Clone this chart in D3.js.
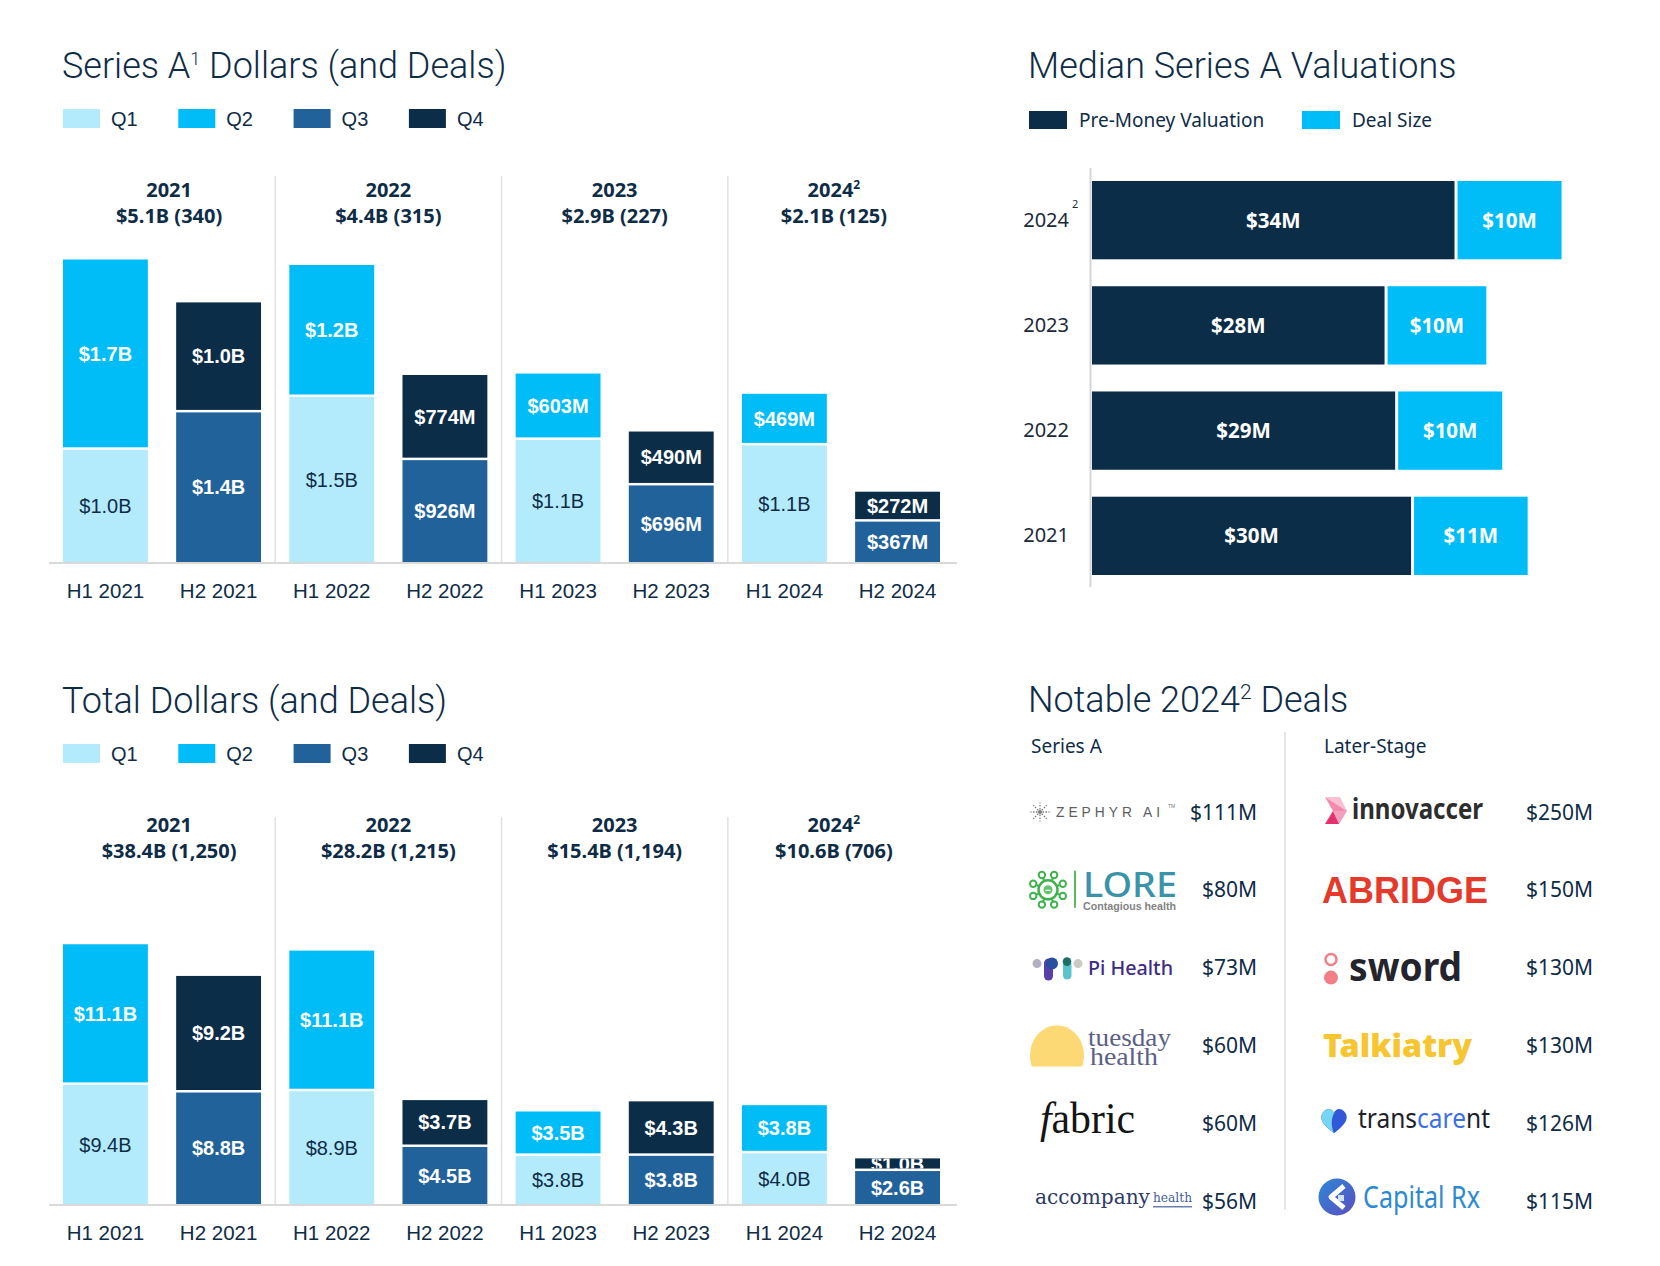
<!DOCTYPE html>
<html>
<head>
<meta charset="utf-8">
<script src="https://cdn.jsdelivr.net/npm/d3@7"></script>
<style>
  body { margin: 0; background: #fff; }
  svg text { font-family: "Liberation Sans", Arial, sans-serif; }
</style>
</head>
<body>
<div id="chart"></div>
<script>
// ---------- data ----------
const halves = ["H1 2021", "H2 2021", "H1 2022", "H2 2022", "H1 2023", "H2 2023", "H1 2024", "H2 2024"];
const quarters = ["Q1", "Q2", "Q3", "Q4"];
const years = ["2021", "2022", "2023", "2024"];
const yearNotes = ["", "", "", "2"];

// Series A dollars, $B, per half-year split by quarter
const seriesAQ1 = [1.02, 0, 1.50, 0, 1.11, 0, 1.06, 0];
const seriesAQ2 = [1.73, 0, 1.20, 0, 0.603, 0, 0.469, 0];
const seriesAQ3 = [0, 1.36, 0, 0.926, 0, 0.696, 0, 0.367];
const seriesAQ4 = [0, 1.00, 0, 0.774, 0, 0.490, 0, 0.272];
const seriesAYearDollars = [5.1, 4.4, 2.9, 2.1];
const seriesAYearDeals = [340, 315, 227, 125];

// total dollars, $B
const totalQ1 = [9.4, 0, 8.9, 0, 3.8, 0, 4.0, 0];
const totalQ2 = [11.1, 0, 11.1, 0, 3.5, 0, 3.8, 0];
const totalQ3 = [0, 8.8, 0, 4.5, 0, 3.8, 0, 2.6];
const totalQ4 = [0, 9.2, 0, 3.7, 0, 4.3, 0, 1.0];
const totalYearDollars = [38.4, 28.2, 15.4, 10.6];
const totalYearDeals = [1250, 1215, 1194, 706];

// median series A valuations, $M
const valuationYears = ["2024", "2023", "2022", "2021"];
const preMoney = [34.2, 27.6, 28.6, 30.1];
const dealSize = [10.1, 9.6, 10.1, 11.0];

// notable 2024 deals, $M
const seriesADeals = ["Zephyr AI", "Lore Health", "Pi Health", "Tuesday Health", "Fabric", "Accompany Health"];
const seriesAAmounts = [111, 80, 73, 60, 60, 56];
const laterDeals = ["Innovaccer", "Abridge", "Sword Health", "Talkiatry", "Transcarent", "Capital Rx"];
const laterAmounts = [250, 150, 130, 130, 126, 115];

// ---------- styles ----------
const navy = "#0f2c47";
const qColors = ["#b3ebfc", "#00bdf7", "#22629a", "#0c2d48"];
const titleFont = "Roboto, 'Liberation Sans', sans-serif";
const plexLike = "'Noto Sans', 'Open Sans', sans-serif";

const svg = d3.select("#chart").append("svg")
    .attr("width", 1660)
    .attr("height", 1266);

function title(x, y, parts) {
    const t = svg.append("text")
        .attr("x", x).attr("y", y)
        .style("font-family", titleFont)
        .attr("font-weight", 300)
        .attr("font-size", 36)
        .attr("fill", navy);
    parts.forEach(p => {
        if (p.sup) {
            t.append("tspan").attr("dy", -13).attr("font-size", p.size || 18).text(p.t);
        } else {
            t.append("tspan").attr("dy", p.back ? 13 : 0).text(p.t);
        }
    });
}

function fmtBar(v) {
    return v < 1 ? "$" + Math.round(v * 1000) + "M" : "$" + v.toFixed(1) + "B";
}

// ---------- stacked half-year chart ----------
let clipId = 0;
function drawStack(cfg) {
    const top = cfg.top, base = cfg.base;
    title(62, 78 + top, cfg.title);

    // legend
    const leg = svg.append("g");
    quarters.forEach((q, i) => {
        const lx = 63 + i * 115.3;
        leg.append("rect").attr("x", lx).attr("y", 109 + top)
            .attr("width", 37).attr("height", 19).attr("fill", qColors[i]);
        leg.append("text").attr("x", lx + 48).attr("y", 118.5 + top).attr("dy", "0.36em")
            .attr("font-size", 20).attr("fill", navy).text(q);
    });

    const rows = halves.map((h, i) => {
        const r = {half: h};
        quarters.forEach((q, k) => r[q] = cfg.q[k][i]);
        return r;
    });
    const stacked = d3.stack().keys(quarters)(rows);

    const x = d3.scaleBand().domain(halves).range([63, 940]).paddingInner(0.25);
    const y = d3.scaleLinear().domain([0, 1]).range([base, base - cfg.pxPerB]);
    const bw = x.bandwidth();

    // year separators
    const seps = [];
    for (let k = 1; k < years.length; k++) {
        const sx = (x(halves[2 * k - 1]) + bw + x(halves[2 * k])) / 2;
        seps.push(sx);
        svg.append("line").attr("x1", sx).attr("x2", sx)
            .attr("y1", cfg.sepTop).attr("y2", base)
            .attr("stroke", "#e2e2e2").attr("stroke-width", 1.5);
    }
    const edges = [x(halves[0])].concat(seps, [x(halves[halves.length - 1]) + bw]);

    // year headers
    years.forEach((yr, k) => {
        const cx = (edges[k] + edges[k + 1]) / 2;
        const t = svg.append("text").attr("x", cx).attr("y", 197 + top)
            .attr("text-anchor", "middle").attr("font-weight", 700)
            .attr("font-size", 20).attr("fill", navy)
            .style("font-family", plexLike);
        t.append("tspan").text(yr);
        if (yearNotes[k]) t.append("tspan").attr("dy", -8).attr("font-size", 12).text(yearNotes[k]);
        svg.append("text").attr("x", cx).attr("y", 223 + top)
            .attr("text-anchor", "middle").attr("font-weight", 700)
            .attr("font-size", 20).attr("fill", navy)
            .style("font-family", plexLike)
            .text("$" + cfg.yearDollars[k].toFixed(1) + "B (" + d3.format(",")(cfg.yearDeals[k]) + ")");
    });

    // bars
    const layer = svg.append("g");
    stacked.forEach((s, qi) => {
        s.forEach((d, i) => {
            if (d[1] - d[0] <= 0) return;
            const gap = d[0] > 0 ? 2.5 : 0;
            const rx = x(halves[i]), ry = y(d[1]);
            const rh = y(d[0]) - y(d[1]) - gap;
            layer.append("rect").attr("x", rx).attr("y", ry)
                .attr("width", bw).attr("height", rh).attr("fill", qColors[qi]);
            const id = "seg" + (clipId++);
            svg.append("clipPath").attr("id", id).append("rect")
                .attr("x", rx).attr("y", ry).attr("width", bw).attr("height", rh);
            svg.append("text").attr("clip-path", "url(#" + id + ")")
                .attr("x", rx + bw / 2).attr("y", ry + rh / 2).attr("dy", "0.36em")
                .attr("text-anchor", "middle").attr("font-size", 20)
                .attr("font-weight", qi === 0 ? 400 : 700)
                .attr("fill", qi === 0 ? navy : "#fff")
                .text(fmtBar(d[1] - d[0]));
        });
    });

    // baseline
    svg.append("line").attr("x1", 49).attr("x2", 957).attr("y1", base + 1).attr("y2", base + 1)
        .attr("stroke", "#d9d9d9").attr("stroke-width", 2);

    // category axis
    const ax = svg.append("g").attr("transform", "translate(0," + base + ")")
        .call(d3.axisBottom(x).tickSize(0).tickPadding(21));
    ax.select(".domain").remove();
    ax.selectAll("text").attr("font-size", 20.5).attr("fill", navy)
        .style("font-family", "'Liberation Sans', Arial, sans-serif");
}

drawStack({
    top: 0, base: 562, sepTop: 176, pxPerB: 110,
    title: [{t: "Series A"}, {t: "1", sup: true}, {t: " Dollars (and Deals)", back: true}],
    q: [seriesAQ1, seriesAQ2, seriesAQ3, seriesAQ4],
    yearDollars: seriesAYearDollars, yearDeals: seriesAYearDeals
});
drawStack({
    top: 635, base: 1204, sepTop: 817, pxPerB: 12.67,
    title: [{t: "Total Dollars (and Deals)"}],
    q: [totalQ1, totalQ2, totalQ3, totalQ4],
    yearDollars: totalYearDollars, yearDeals: totalYearDeals
});

// ---------- median valuations ----------
title(1028, 78, [{t: "Median Series A Valuations"}]);
[["Pre-Money Valuation", qColors[3], 1029], ["Deal Size", qColors[1], 1302]].forEach(l => {
    svg.append("rect").attr("x", l[2]).attr("y", 111).attr("width", 38).attr("height", 18).attr("fill", l[1]);
    svg.append("text").attr("x", l[2] + 50).attr("y", 120).attr("dy", "0.36em")
        .attr("font-size", 19).attr("fill", navy).style("font-family", plexLike).text(l[0]);
});

const vy = d3.scaleBand().domain(valuationYears).range([181, 575]).paddingInner(0.256);
const vx = d3.scaleLinear().domain([0, 50]).range([1092, 1622]);
const vh = vy.bandwidth();

valuationYears.forEach((yr, i) => {
    const yy = vy(yr);
    const pmEnd = vx(preMoney[i]);
    const dsEnd = vx(preMoney[i] + dealSize[i]);
    svg.append("rect").attr("x", vx(0)).attr("y", yy)
        .attr("width", pmEnd - vx(0)).attr("height", vh).attr("fill", qColors[3]);
    svg.append("rect").attr("x", pmEnd + 3).attr("y", yy)
        .attr("width", dsEnd - pmEnd - 3).attr("height", vh).attr("fill", qColors[1]);
    svg.append("text").attr("x", (vx(0) + pmEnd) / 2).attr("y", yy + vh / 2).attr("dy", "0.36em")
        .attr("text-anchor", "middle").attr("font-size", 20.5).attr("font-weight", 700)
        .attr("fill", "#fff").style("font-family", plexLike)
        .text("$" + Math.round(preMoney[i]) + "M");
    svg.append("text").attr("x", (pmEnd + 3 + dsEnd) / 2).attr("y", yy + vh / 2).attr("dy", "0.36em")
        .attr("text-anchor", "middle").attr("font-size", 20.5).attr("font-weight", 700)
        .attr("fill", "#fff").style("font-family", plexLike)
        .text("$" + Math.round(dealSize[i]) + "M");
});

svg.append("line").attr("x1", 1090.5).attr("x2", 1090.5).attr("y1", 168).attr("y2", 587)
    .attr("stroke", "#d6d6d6").attr("stroke-width", 2);
const yAx = svg.append("g").attr("transform", "translate(1090,0)")
    .call(d3.axisLeft(vy).tickSize(0).tickPadding(21));
yAx.select(".domain").remove();
yAx.selectAll("text").attr("font-size", 20).attr("fill", "#1b2a3a").style("font-family", plexLike);
svg.append("text").attr("x", 1072).attr("y", vy("2024") + vh / 2 - 12)
    .attr("font-size", 11).attr("fill", "#1b2a3a").style("font-family", plexLike).text("2");

// ---------- notable deals ----------
title(1028, 712, [{t: "Notable 2024"}, {t: "2", sup: true, size: 21}, {t: " Deals", back: true}]);
svg.append("text").attr("x", 1031).attr("y", 753).attr("font-size", 19).attr("fill", navy)
    .style("font-family", plexLike).text("Series A");
svg.append("text").attr("x", 1324).attr("y", 753).attr("font-size", 19).attr("fill", navy)
    .style("font-family", plexLike).text("Later-Stage");
svg.append("line").attr("x1", 1285).attr("x2", 1285).attr("y1", 732).attr("y2", 1210)
    .attr("stroke", "#dedede").attr("stroke-width", 1.5);

const rowY = d3.scalePoint().domain(d3.range(6)).range([812, 1201]);

const defs = svg.append("defs");
const grad = defs.append("linearGradient").attr("id", "capgrad")
    .attr("x1", "0%").attr("y1", "0%").attr("x2", "100%").attr("y2", "100%");
grad.append("stop").attr("offset", "0%").attr("stop-color", "#2f86d6");
grad.append("stop").attr("offset", "100%").attr("stop-color", "#5a4fc0");

function word(g, txt, o) {
    return g.append("text").attr("x", o.x).attr("y", o.y || 0)
        .attr("dy", o.dy || null)
        .attr("font-size", o.size).attr("font-weight", o.weight || 400)
        .attr("fill", o.fill).style("font-family", o.font || "'Liberation Sans', Arial, sans-serif")
        .attr("letter-spacing", o.ls || null)
        .attr("textLength", o.len || null)
        .attr("lengthAdjust", o.len ? "spacingAndGlyphs" : null)
        .text(txt);
}

const logos = {
    "Zephyr AI": g => {
        const s = g.append("g").attr("transform", "translate(10,0)");
        d3.range(8).forEach(k => {
            const a = k * Math.PI / 4;
            s.append("line").attr("x1", 2.5 * Math.cos(a)).attr("y1", 2.5 * Math.sin(a))
                .attr("x2", 9.5 * Math.cos(a)).attr("y2", 9.5 * Math.sin(a))
                .attr("stroke", "#7a7a7a").attr("stroke-width", 1.3).attr("stroke-dasharray", "1.6,1.4");
        });
        s.append("circle").attr("r", 2).attr("fill", "#7a7a7a");
        word(g, "ZEPHYR AI", {x: 26, dy: "0.36em", size: 14.5, fill: "#5e5e5e", ls: 4.2, len: 108});
        word(g, "TM", {x: 138, y: -4, size: 5, fill: "#777"});
    },
    "Lore Health": g => {
        const c = g.append("g").attr("transform", "translate(18,0)");
        d3.range(8).forEach(k => {
            const a = k * Math.PI / 4 + Math.PI / 8;
            c.append("line").attr("x1", 10 * Math.cos(a)).attr("y1", 10 * Math.sin(a))
                .attr("x2", 14 * Math.cos(a)).attr("y2", 14 * Math.sin(a))
                .attr("stroke", "#3fb24d").attr("stroke-width", 2);
            c.append("circle").attr("cx", 16 * Math.cos(a)).attr("cy", 16 * Math.sin(a)).attr("r", 3.2)
                .attr("fill", "#fff").attr("stroke", "#3fb24d").attr("stroke-width", 2);
        });
        c.append("circle").attr("r", 9.5).attr("fill", "none").attr("stroke", "#3fb24d").attr("stroke-width", 2.5);
        c.append("circle").attr("r", 4.5).attr("fill", "#62c46b");
        c.append("line").attr("x1", -2.5).attr("x2", 2.5).attr("y1", 0.5).attr("y2", 0.5).attr("stroke", "#fff").attr("stroke-width", 1.2);
        g.append("line").attr("x1", 45).attr("x2", 45).attr("y1", -19).attr("y2", 18)
            .attr("stroke", "#5cb860").attr("stroke-width", 2);
        word(g, "LORE", {x: 53, y: 7, size: 35, weight: 500, fill: "#3a93a8", font: plexLike, len: 94});
        word(g, "Contagious health", {x: 53, y: 20, size: 10, weight: 700, fill: "#838383", len: 93});
    },
    "Pi Health": g => {
        g.append("circle").attr("cx", 7).attr("cy", -4).attr("r", 4.5).attr("fill", "#b3b0c4");
        g.append("rect").attr("x", 14).attr("y", -9).attr("width", 9).attr("height", 22).attr("rx", 4.5).attr("fill", "#5b3fa8");
        g.append("circle").attr("cx", 22).attr("cy", -4).attr("r", 6).attr("fill", "#2b4f9f");
        g.append("rect").attr("x", 33).attr("y", -7).attr("width", 8.5).attr("height", 19).attr("rx", 4.2).attr("fill", "#5bc4cb");
        g.append("circle").attr("cx", 37).attr("cy", -6).attr("r", 4.3).attr("fill", "#1e6d68");
        g.append("circle").attr("cx", 48).attr("cy", -4).attr("r", 4.5).attr("fill", "#c9ccbe");
        word(g, "Pi Health", {x: 58, dy: "0.36em", size: 20, weight: 500, fill: "#3d2b87", font: plexLike, len: 85});
    },
    "Tuesday Health": g => {
        const h = 27 * Math.sqrt(1 - Math.pow(11 / 30, 2));
        g.append("path").attr("d", "M" + (27 - h) + ",21 A27,30 0 1,1 " + (27 + h) + ",21 Z").attr("fill", "#fdd976");
        word(g, "tuesday", {x: 58, y: 1, size: 25, fill: "#5c5f86", font: "'Liberation Serif', serif", len: 83});
        word(g, "health", {x: 60, y: 20, size: 25, fill: "#5c5f86", font: "'Liberation Serif', serif", len: 68});
    },
    "Fabric": g => {
        const t = word(g, "", {x: 10, y: 10, size: 44, fill: "#141414", font: "'Liberation Serif', serif", len: 95});
        t.append("tspan").attr("font-style", "italic").text("f");
        t.append("tspan").text("abric");
    },
    "Accompany Health": g => {
        word(g, "accompany", {x: 5, y: 3, size: 20, fill: "#2b3a66", font: "'DejaVu Serif', serif", len: 115});
        word(g, "health", {x: 123, y: 1, size: 13, fill: "#4460a0", font: "'DejaVu Serif', serif", len: 39});
        g.append("rect").attr("x", 123).attr("y", 5).attr("width", 39).attr("height", 1.5).attr("fill", "#6a80b5");
    },
    "Innovaccer": g => {
        g.append("polygon").attr("points", "5,-15 20,-15 27,-1").attr("fill", "#f8c0d2");
        g.append("polygon").attr("points", "5,-15 27,-1 13,-1").attr("fill", "#f389ad");
        g.append("polygon").attr("points", "13,-1 27,-1 19,12").attr("fill", "#f2a0bc");
        g.append("polygon").attr("points", "5,12 13,-1 19,12").attr("fill", "#e63070");
        word(g, "innovaccer", {x: 32, y: 7, size: 28, weight: 700, fill: "#2d2d2d", font: plexLike, len: 131});
    },
    "Abridge": g => {
        word(g, "ABRIDGE", {x: 2, y: 13, size: 36, weight: 700, fill: "#e4392b", len: 166});
    },
    "Sword Health": g => {
        g.append("circle").attr("cx", 11).attr("cy", -8).attr("r", 5.5).attr("fill", "none")
            .attr("stroke", "#f27f86").attr("stroke-width", 2.5);
        g.append("circle").attr("cx", 11).attr("cy", 10).attr("r", 7).attr("fill", "#f27f86");
        word(g, "sword", {x: 29, y: 13, size: 40, weight: 700, fill: "#24242d", font: plexLike, len: 113});
    },
    "Talkiatry": g => {
        word(g, "Talkiatry", {x: 3, y: 12, size: 31, weight: 900, fill: "#f7c52f", font: plexLike, len: 149});
    },
    "Transcarent": g => {
        g.append("path").attr("d", "M14,10 C2,1 -2,-6 4,-12 C8,-16 13,-14 14,-10 C15,-14 20,-16 24,-12 C30,-6 26,1 14,10 Z")
            .attr("fill", "#3158d8");
        g.append("path").attr("d", "M14,10 C2,1 -2,-6 4,-12 C8,-16 13,-14 14,-10 C11,-4 11,3 14,10 Z")
            .attr("fill", "#74d5f5");
        const t = word(g, "", {x: 38, y: 5, size: 27, fill: "#1e1e2b", font: plexLike, len: 132});
        t.append("tspan").text("trans");
        t.append("tspan").attr("fill", "#3b6fe6").text("care");
        t.append("tspan").text("nt");
    },
    "Capital Rx": g => {
        g.append("circle").attr("cx", 17).attr("cy", -4).attr("r", 18.5).attr("fill", "url(#capgrad)");
        g.append("path").attr("d", "M24,-15 L11,-4 L24,7").attr("fill", "none")
            .attr("stroke", "#fff").attr("stroke-width", 5).attr("stroke-linejoin", "round");
        g.append("rect").attr("x", 18).attr("y", -6).attr("width", 6).attr("height", 6).attr("fill", "#cfe0f7");
        word(g, "Capital Rx", {x: 43, y: 7, size: 31, fill: "#2e8ad0", font: plexLike, len: 117});
    }
};

function dealColumn(names, amounts, logoX, amountX) {
    names.forEach((n, i) => {
        const g = svg.append("g").attr("transform", "translate(" + logoX + "," + rowY(i) + ")");
        logos[n](g);
        svg.append("text").attr("x", amountX).attr("y", rowY(i)).attr("dy", "0.36em")
            .attr("text-anchor", "end").attr("font-size", 21).attr("fill", navy)
            .style("font-family", plexLike).text("$" + amounts[i] + "M");
    });
}
dealColumn(seriesADeals, seriesAAmounts, 1030, 1257);
dealColumn(laterDeals, laterAmounts, 1320, 1593);
</script>
</body>
</html>
